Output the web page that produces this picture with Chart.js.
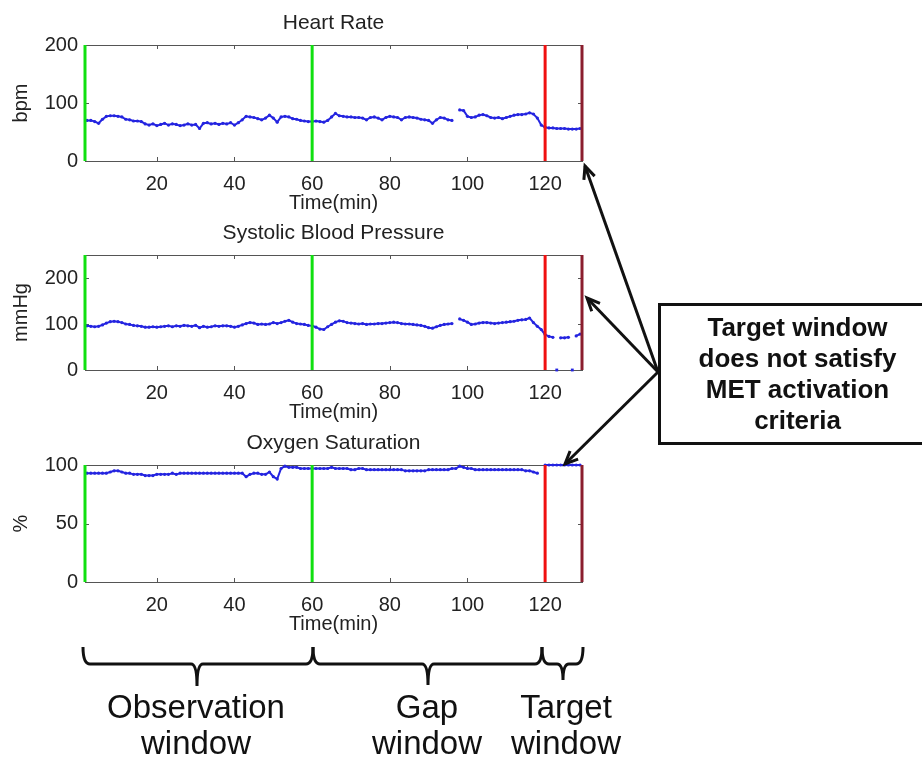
<!DOCTYPE html>
<html>
<head>
<meta charset="utf-8">
<script src="https://cdn.jsdelivr.net/npm/chart.js@4.4.0/dist/chart.umd.min.js"></script>
<style>
  body { margin: 0; background: #fff; }
  #page { position: relative; width: 922px; height: 757px; overflow: hidden; background: #fff;
          font-family: 'Liberation Sans', Arial, Helvetica, sans-serif; color: #111; }
  #page canvas { position: absolute; left: 0; }
  .win { position: absolute; width: 240px; text-align: center; font-size: 33px; line-height: 36px; }
  #note { position: absolute; left: 658px; top: 303px; width: 276px; height: 142px; box-sizing: border-box;
          border: 3px solid #111; border-right: none; font-weight: bold; font-size: 26px; line-height: 31px;
          text-align: center; display: flex; align-items: center; justify-content: center; }
  #overlay { position: absolute; left: 0; top: 0; }
</style>
</head>
<body>
<div id="page">
  <canvas id="hrChart" width="600" height="215" style="top:0px"></canvas>
  <canvas id="sbpChart" width="600" height="214" style="top:210px"></canvas>
  <canvas id="spo2Chart" width="600" height="216" style="top:420px"></canvas>
  <svg id="overlay" width="922" height="757"></svg>
  <div id="note">Target window<br>does not satisfy<br>MET activation<br>criteria</div>
  <div class="win" style="left:76px; top:689px">Observation<br>window</div>
  <div class="win" style="left:307px; top:689px">Gap<br>window</div>
  <div class="win" style="left:446px; top:689px">Target<br>window</div>
</div>
<script>
// time axis (min) and the three vital sign traces, one sample per minute
const minutes = [
  2, 3, 4, 5, 6, 7, 8, 9, 10, 11, 12, 13, 14, 15, 16, 17,
  18, 19, 20, 21, 22, 23, 24, 25, 26, 27, 28, 29, 30, 31, 32, 33,
  34, 35, 36, 37, 38, 39, 40, 41, 42, 43, 44, 45, 46, 47, 48, 49,
  50, 51, 52, 53, 54, 55, 56, 57, 58, 59, 60, 61, 62, 63, 64, 65,
  66, 67, 68, 69, 70, 71, 72, 73, 74, 75, 76, 77, 78, 79, 80, 81,
  82, 83, 84, 85, 86, 87, 88, 89, 90, 91, 92, 93, 94, 95, 96, 97,
  98, 99, 100, 101, 102, 103, 104, 105, 106, 107, 108, 109, 110, 111, 112, 113,
  114, 115, 116, 117, 118, 119, 120, 121, 122, 123, 124, 125, 126, 127, 128, 129
];

const heartRate = [
  70, 70, 68, 65, 72, 77, 78, 78, 77, 76, 72, 71, 69, 69, 68, 64,
  62, 64, 61, 63, 65, 62, 64, 63, 61, 62, 64, 62, 63, 56, 65, 66,
  64, 65, 63, 65, 64, 66, 62, 66, 71, 77, 76, 75, 73, 71, 74, 79,
  74, 67, 76, 77, 76, 73, 72, 70, 69, 68, 68, 69, 68, 67, 70, 76,
  82, 78, 77, 76, 76, 75, 75, 74, 71, 75, 76, 74, 71, 75, 77, 76,
  75, 71, 75, 76, 75, 74, 72, 71, 70, 65, 71, 75, 74, 71, 70, null,
  88, 87, 77, 75, 76, 79, 80, 78, 75, 74, 75, 73, 75, 77, 79, 80,
  80, 81, 83, 81, 74, 62, 58, 57, 57, 56, 56, 56, 55, 55, 55, 56
];

const systolicBP = [
  96, 95, 94, 95, 98, 102, 105, 106, 105, 103, 100, 99, 97, 96, 95, 93,
  93, 94, 93, 94, 95, 96, 94, 96, 95, 97, 96, 95, 97, 92, 95, 93,
  94, 96, 95, 96, 96, 95, 93, 95, 98, 101, 103, 102, 99, 100, 99, 100,
  103, 101, 103, 106, 108, 104, 101, 100, 99, 97, 96, 93, 89, 88, 94, 99,
  104, 107, 106, 103, 102, 101, 100, 101, 99, 100, 100, 101, 101, 102, 103, 104,
  103, 101, 100, 100, 99, 98, 97, 95, 92, 91, 94, 97, 99, 100, 101, null,
  111, 108, 104, 99, 100, 102, 103, 103, 102, 101, 102, 103, 104, 105, 106, 108,
  109, 110, 113, 103, 95, 88, 77, 73, 71, null, 70, 70, 71, null, 74, 78
];
// cuff readings that dropped to zero inside the target window
const sbpDropoutTimes = [123, 127];
const sbpDropoutValues = [0, 0];

const oxygenSat = [
  93, 93, 93, 93, 93, 93, 94, 95, 95, 94, 93, 93, 92, 92, 92, 91,
  91, 91, 92, 92, 92, 92, 93, 92, 93, 93, 93, 93, 93, 93, 93, 93,
  93, 93, 93, 93, 93, 93, 93, 93, 93, 90, 92, 93, 93, 92, 92, 94,
  90, 88, 97, 99, 98, 98, 98, 97, 97, 97, 97, 97, 97, 97, 97, 98,
  97, 97, 97, 97, 96, 96, 97, 97, 96, 96, 96, 96, 96, 96, 96, 96,
  96, 96, 95, 95, 95, 95, 95, 95, 96, 96, 96, 96, 96, 96, 97, 97,
  99, 98, 97, 97, 96, 96, 96, 96, 96, 96, 96, 96, 96, 96, 96, 96,
  96, 95, 95, 94, 93, null, 100, 100, 100, 100, 100, 100, 100, 100, 100, 100
];

const xRange = [1.5, 129.5];
const xTicks = [20, 40, 60, 80, 100, 120];
// observation / gap / target window boundaries (min)
const windowBounds = [1.5, 60, 120, 129.5];

const FONT = "'Liberation Sans', Arial, Helvetica, sans-serif";
const TICK_SIZE = 20;
const TITLE_SIZE = 21;
const AXIS_TITLE_SIZE = 20;
const BLUE = '#2424e0';
const boundColors = ['#10e010', '#10e010', '#f01010', '#8b1e2e'];

function toPoints(times, values) {
    return times.map((t, i) => ({ x: t, y: values[i] }));
}

// frame, inward ticks and the window boundary lines
const framePlugin = {
    id: 'frame',
    beforeDatasetsDraw(chart) {
        const { ctx, chartArea: a, scales: { x, y } } = chart;
        ctx.save();
        ctx.strokeStyle = '#555';
        ctx.lineWidth = 1;
        ctx.strokeRect(a.left + 0.5, a.top + 0.5, a.right - a.left, a.bottom - a.top);
        ctx.beginPath();
        x.ticks.forEach(t => {
            const px = Math.round(x.getPixelForValue(t.value)) + 0.5;
            ctx.moveTo(px, a.bottom); ctx.lineTo(px, a.bottom - 4);
            ctx.moveTo(px, a.top); ctx.lineTo(px, a.top + 4);
        });
        y.ticks.forEach(t => {
            const py = Math.round(y.getPixelForValue(t.value)) + 0.5;
            ctx.moveTo(a.left, py); ctx.lineTo(a.left + 4, py);
            ctx.moveTo(a.right, py); ctx.lineTo(a.right - 4, py);
        });
        ctx.stroke();
        ctx.restore();
    },
    afterDatasetsDraw(chart) {
        const { ctx, chartArea: a, scales: { x } } = chart;
        ctx.save();
        ctx.lineWidth = 3;
        windowBounds.forEach((t, i) => {
            const px = x.getPixelForValue(t);
            ctx.strokeStyle = boundColors[i];
            ctx.beginPath();
            ctx.moveTo(px, a.top);
            ctx.lineTo(px, a.bottom);
            ctx.stroke();
        });
        ctx.restore();
    }
};

function makePanel(id, canvasTop, areaTop, areaBottom, title, yLabel, yMax, yTicks, datasets) {
    const canvas = document.getElementById(id);
    const titleLine = TITLE_SIZE * 1.2;
    const axisLine = AXIS_TITLE_SIZE * 1.2;
    const padBottom = 22 - titleLine / 2;
    const padTop = (areaTop - canvasTop) - titleLine - padBottom;
    const xAxisHeight = Math.round(42 + axisLine / 2);
    canvas.height = areaBottom + xAxisHeight - canvasTop;

    new Chart(canvas, {
        type: 'scatter',
        data: { datasets },
        plugins: [framePlugin],
        options: {
            responsive: false,
            animation: false,
            events: [],
            layout: { padding: { left: 5, right: 18, top: 0, bottom: 0 } },
            plugins: {
                legend: { display: false },
                tooltip: { enabled: false },
                title: {
                    display: true, text: title, color: '#222', fullSize: false,
                    font: { family: FONT, size: TITLE_SIZE, weight: 'normal' },
                    padding: { top: padTop, bottom: padBottom }
                }
            },
            scales: {
                x: {
                    type: 'linear', min: xRange[0], max: xRange[1],
                    grid: { display: false, drawTicks: false },
                    border: { display: false },
                    ticks: { font: { family: FONT, size: TICK_SIZE }, color: '#222', padding: 23 - TICK_SIZE * 0.6, maxRotation: 0 },
                    afterBuildTicks: s => { s.ticks = xTicks.map(v => ({ value: v })); },
                    afterFit: s => { s.height = xAxisHeight; },
                    title: {
                        display: true, text: 'Time(min)', color: '#222',
                        font: { family: FONT, size: AXIS_TITLE_SIZE }, padding: { top: 0, bottom: 0 }
                    }
                },
                y: {
                    min: 0, max: yMax,
                    grid: { display: false, drawTicks: false },
                    border: { display: false },
                    ticks: { font: { family: FONT, size: TICK_SIZE }, color: '#222', padding: 7 },
                    afterBuildTicks: s => { s.ticks = yTicks.map(v => ({ value: v })); },
                    afterFit: s => { s.width = 80; },
                    title: {
                        display: true, text: yLabel, color: '#222',
                        font: { family: FONT, size: AXIS_TITLE_SIZE }, padding: { top: 4, bottom: 4 }
                    }
                }
            }
        }
    });
}

function trace(values) {
    return {
        data: toPoints(minutes, values),
        showLine: true, spanGaps: false, clip: false,
        borderColor: BLUE, borderWidth: 2,
        pointRadius: 1.6, pointBorderWidth: 0, pointBackgroundColor: BLUE
    };
}

makePanel('hrChart', 0, 45, 161, 'Heart Rate', 'bpm', 200, [0, 100, 200], [trace(heartRate)]);

makePanel('sbpChart', 210, 255, 370, 'Systolic Blood Pressure', 'mmHg', 250, [0, 100, 200], [
    trace(systolicBP),
    {
        data: toPoints(sbpDropoutTimes, sbpDropoutValues),
        showLine: false, clip: false,
        pointStyle: 'rect', pointRadius: 2, pointBorderWidth: 0, pointBackgroundColor: BLUE
    }
]);

makePanel('spo2Chart', 420, 465, 582, 'Oxygen Saturation', '%', 100, [0, 50, 100], [trace(oxygenSat)]);

// annotation arrows and window braces
const svg = document.getElementById('overlay');
const NS = 'http://www.w3.org/2000/svg';

function addEl(tag, attrs) {
    const el = document.createElementNS(NS, tag);
    Object.entries(attrs).forEach(([k, v]) => el.setAttribute(k, v));
    svg.appendChild(el);
}

function arrow(x1, y1, x2, y2) {
    const a = Math.atan2(y2 - y1, x2 - x1), len = 14, spread = 0.42;
    const p1 = [x2 - len * Math.cos(a - spread), y2 - len * Math.sin(a - spread)];
    const p2 = [x2 - len * Math.cos(a + spread), y2 - len * Math.sin(a + spread)];
    addEl('line', { x1, y1, x2, y2, stroke: '#111', 'stroke-width': 3 });
    addEl('polyline', { points: `${p1.join(',')} ${x2},${y2} ${p2.join(',')}`, fill: 'none',
        stroke: '#111', 'stroke-width': 3, 'stroke-linejoin': 'miter' });
}

arrow(658, 372, 585, 166);
arrow(658, 372, 587, 298);
arrow(658, 372, 565, 464);

function brace(x0, x1, xm, tipY) {
    const top = 647, mid = 664;
    const d = `M${x0},${top} Q${x0},${mid} ${x0 + 7},${mid} L${xm - 6},${mid} ` +
              `Q${xm},${mid} ${xm},${tipY} Q${xm},${mid} ${xm + 6},${mid} ` +
              `L${x1 - 7},${mid} Q${x1},${mid} ${x1},${top}`;
    addEl('path', { d, fill: 'none', stroke: '#111', 'stroke-width': 3 });
}

brace(83, 313, 197, 686);
brace(313, 542, 428, 685);
brace(542, 583, 563, 680);
</script>
</body>
</html>
